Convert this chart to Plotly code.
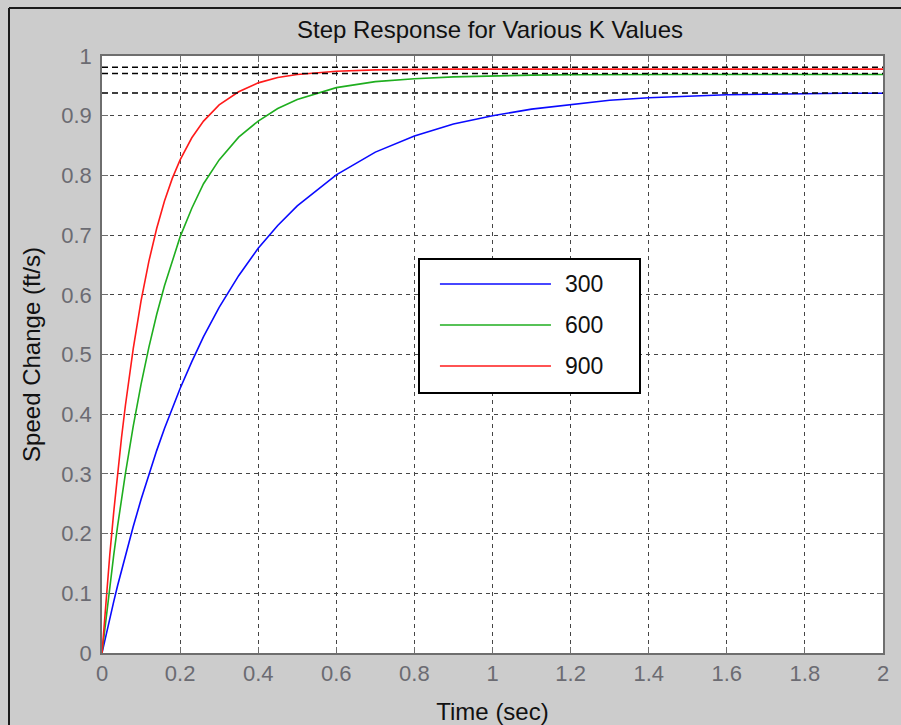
import plotly.graph_objects as go

# ---- data ----
time_s = [0, 0.01, 0.02, 0.03, 0.04, 0.05, 0.06, 0.08, 0.10, 0.12, 0.14, 0.16,
          0.18, 0.20, 0.23, 0.26, 0.30, 0.35, 0.40, 0.45, 0.50, 0.60, 0.70,
          0.80, 0.90, 1.00, 1.10, 1.20, 1.30, 1.40, 1.50, 1.60, 1.70, 1.80,
          1.90, 2.00]

k_labels = ["300", "600", "900"]

resp_300 = [0, 0.030, 0.058, 0.086, 0.113, 0.139, 0.164, 0.212, 0.257, 0.299,
            0.339, 0.376, 0.411, 0.443, 0.488, 0.530, 0.579, 0.632, 0.678,
            0.716, 0.749, 0.801, 0.839, 0.866, 0.886, 0.900, 0.911, 0.919,
            0.926, 0.930, 0.933, 0.935, 0.936, 0.937, 0.9375, 0.9375]

resp_600 = [0, 0.058, 0.113, 0.164, 0.213, 0.258, 0.301, 0.380, 0.450, 0.512,
            0.567, 0.615, 0.658, 0.697, 0.745, 0.786, 0.826, 0.864, 0.891,
            0.912, 0.927, 0.947, 0.957, 0.962, 0.965, 0.967, 0.968, 0.9685,
            0.969, 0.969, 0.969, 0.969, 0.969, 0.969, 0.969, 0.969]

resp_900 = [0, 0.086, 0.165, 0.236, 0.301, 0.361, 0.415, 0.510, 0.590, 0.656,
            0.711, 0.757, 0.795, 0.826, 0.863, 0.891, 0.918, 0.940, 0.955,
            0.964, 0.969, 0.9745, 0.9768, 0.9778, 0.978, 0.978, 0.978, 0.978,
            0.978, 0.978, 0.978, 0.978, 0.978, 0.978, 0.978, 0.978]

steady_state = [0.938, 0.9705, 0.981]

x_tick_vals = [0, 0.2, 0.4, 0.6, 0.8, 1.0, 1.2, 1.4, 1.6, 1.8, 2.0]
x_tick_text = ["0", "0.2", "0.4", "0.6", "0.8", "1", "1.2", "1.4", "1.6", "1.8", "2"]
y_tick_vals = [0, 0.1, 0.2, 0.3, 0.4, 0.5, 0.6, 0.7, 0.8, 0.9, 1.0]
y_tick_text = ["0", "0.1", "0.2", "0.3", "0.4", "0.5", "0.6", "0.7", "0.8", "0.9", "1"]

# ---- styles ----
series = [resp_300, resp_600, resp_900]
colors = ["#0a0aff", "#1fae1f", "#ff1a1a"]
FONT = "Liberation Sans, Arial, sans-serif"
TICK_COLOR = "#6b6b72"
GRID_COLOR = "#454545"

fig = go.Figure()

for resp, col, lab in zip(series, colors, k_labels):
    fig.add_trace(go.Scatter(x=time_s, y=resp, mode="lines", name=lab,
                             line=dict(color=col, width=1.6),
                             showlegend=False, hoverinfo="x+y"))

for val in steady_state:
    fig.add_trace(go.Scatter(x=[time_s[0], time_s[-1]], y=[val, val], mode="lines",
                             line=dict(color="black", width=1.5, dash="6px,4px"),
                             showlegend=False, hoverinfo="skip"))

# ---- custom legend box drawn in its own small axes ----
leg_rows = [0.818, 0.508, 0.197]
for col, row in zip(colors, leg_rows):
    fig.add_trace(go.Scatter(x=[0.091, 0.598], y=[row, row], mode="lines",
                             line=dict(color=col, width=1.6),
                             xaxis="x2", yaxis="y2", showlegend=False,
                             hoverinfo="skip"))

annotations = []
for lab, row in zip(k_labels, leg_rows):
    annotations.append(dict(x=0.655, y=row, xref="x2", yref="y2", text=lab,
                            showarrow=False, xanchor="left", yanchor="middle",
                            font=dict(family=FONT, size=23, color="#111111")))

W, H = 901, 725
ML, MR, MT, MB = 102, 18, 56, 72
PW, PH = W - ML - MR, H - MT - MB

def px_x(p):
    return (p - ML) / PW

def px_y(p):
    return 1 - (p - MT) / PH

shapes = [
    dict(type="line", xref="paper", yref="paper", x0=px_x(9), x1=px_x(905),
         y0=px_y(8), y1=px_y(8), line=dict(color="#1a1a1a", width=2)),
    dict(type="line", xref="paper", yref="paper", x0=px_x(9), x1=px_x(9),
         y0=px_y(8), y1=px_y(730), line=dict(color="#1a1a1a", width=2)),
]

axis_common = dict(
    showline=True, linecolor="#6e6e6e", linewidth=1.5, mirror="ticks",
    ticks="inside", ticklen=6, tickcolor="#6e6e6e", tickwidth=1,
    showgrid=True, gridcolor=GRID_COLOR, gridwidth=1, griddash="4px,4px",
    zeroline=False, automargin=False,
    tickfont=dict(family=FONT, size=22, color=TICK_COLOR),
)

fig.update_layout(
    width=W, height=H,
    margin=dict(l=ML, r=MR, t=MT, b=MB, pad=0, autoexpand=False),
    paper_bgcolor="#cccccc", plot_bgcolor="white",
    font=dict(family=FONT, color="#111111"),
    title=dict(text="Step Response for Various K Values", x=px_x(490),
               xref="paper", xanchor="center", y=1 - 30 / H, yref="container",
               yanchor="middle", automargin=False,
               font=dict(family=FONT, size=24, color="#111111")),
    xaxis=dict(range=[0, 2], tickvals=x_tick_vals, ticktext=x_tick_text,
               title=dict(text="Time (sec)", standoff=18,
                          font=dict(family=FONT, size=24, color="#111111")),
               ticklabelstandoff=0, **axis_common),
    yaxis=dict(range=[0, 1], tickvals=y_tick_vals, ticktext=y_tick_text,
               title=dict(text="Speed Change (ft/s)", standoff=14,
                          font=dict(family=FONT, size=24, color="#111111")),
               ticklabelstandoff=4, **axis_common),
    xaxis2=dict(domain=[px_x(420), px_x(639)], range=[0, 1], anchor="y2",
                showgrid=False, zeroline=False, showticklabels=False, ticks="",
                showline=True, mirror=True, linecolor="black", linewidth=1.5,
                fixedrange=True),
    yaxis2=dict(domain=[px_y(392), px_y(260)], range=[0, 1], anchor="x2",
                showgrid=False, zeroline=False, showticklabels=False, ticks="",
                showline=True, mirror=True, linecolor="black", linewidth=1.5,
                fixedrange=True),
    annotations=annotations,
    shapes=shapes,
    showlegend=False,
)

fig.write_html("out.html", config={"displayModeBar": False},
               post_script="document.body.style.margin='0';")
